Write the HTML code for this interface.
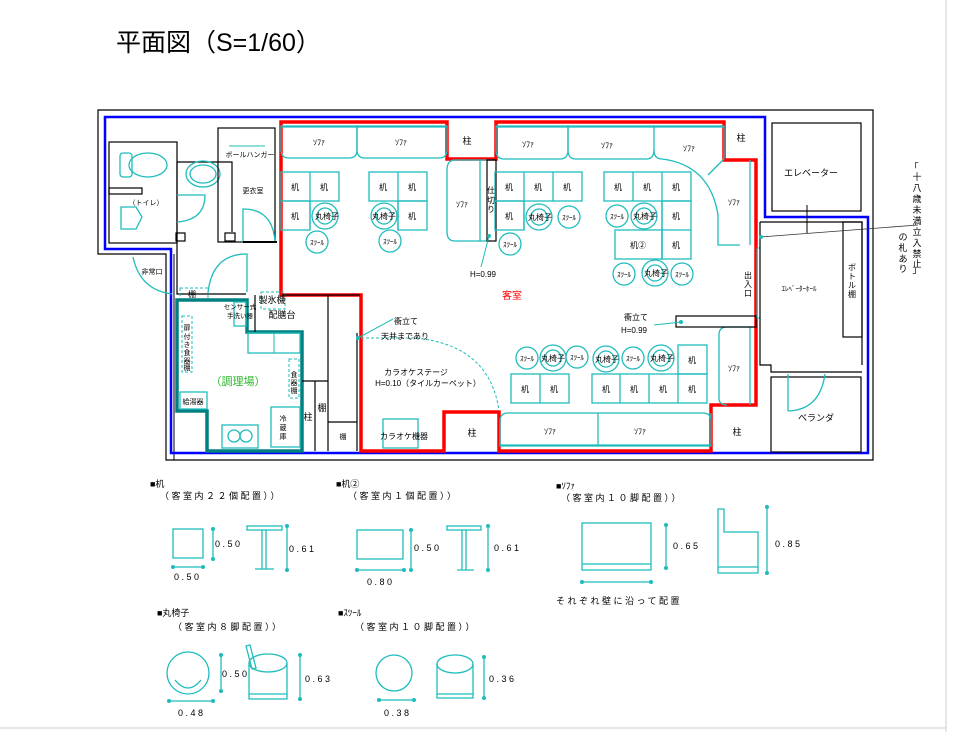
<!DOCTYPE html>
<html><head><meta charset="utf-8"><style>
html,body{margin:0;padding:0;background:#fff;}
svg{display:block;font-family:"Liberation Sans","Noto Sans CJK JP",sans-serif;}
.t{fill:none;stroke:#1fbcbc;stroke-width:1.3}
.k{fill:none;stroke:#000;stroke-width:1.2}
.l{font-size:9px;fill:#000;text-anchor:middle}
.s{font-size:8px;fill:#000;text-anchor:middle}
.d{fill:#1fbcbc}
.lg{letter-spacing:2.5px}
</style></head><body>
<svg width="959" height="732" viewBox="0 0 959 732" xmlns="http://www.w3.org/2000/svg">
<line x1="946" y1="0" x2="946" y2="732" stroke="#ccc"/>
<line x1="0" y1="728" x2="946" y2="728" stroke="#ccc"/>
<text x="116" y="51" font-size="25" fill="#000">平面図（S=1/60）</text>

<path class="k" d="M98 110 H873 V460 H166 V254 H98 Z"/>
<line x1="174" y1="254" x2="174" y2="460" stroke="#000"/>
<path d="M105 117 H765 V217 H868 V453 H171 V249 H105 Z" fill="none" stroke="#0000ff" stroke-width="2.5"/>
<path d="M281 122 H447 V159 H496 V122 H724 V160 H756 V405 H711 V451 H499 V412 H444 V451 H361 V295 H281 Z" fill="none" stroke="#f00" stroke-width="3.5"/>
<text x="467" y="144" class="l">柱</text>
<text x="741" y="141" class="l">柱</text>
<text x="472" y="436" class="l">柱</text>
<text x="737" y="435" class="l">柱</text>

<g class="t">
<path d="M281 126 H357 V150 Q357 158 349 158 H289 Q281 158 281 150 Z"/>
<path d="M357 126 H447 V150 Q447 158 439 158 H365 Q357 158 357 150 Z"/>
<path d="M496 126 H568 V150 Q568 159 560 159 H504 Q496 159 496 150 Z"/>
<path d="M568 126 H654 V150 Q654 159 646 159 H576 Q568 159 568 150 Z"/>
<path d="M654 126 H724 V159 M654 150 Q654 159 662 159 Q710 165 718 215 V245 H740"/>
<line x1="708" y1="175" x2="724" y2="159"/>
<line x1="281" y1="127" x2="447" y2="127"/><line x1="496" y1="127" x2="724" y2="127"/>
<path d="M496 160 H455 Q447 160 447 170 V232 Q447 241 455 241 H490"/>
<line x1="480" y1="160" x2="480" y2="241"/>
<line x1="750" y1="160" x2="750" y2="245"/>
<path d="M754 327 H727 Q719 327 719 335 V398 Q719 405 727 405"/>
<line x1="750" y1="327" x2="750" y2="405"/>
<path d="M711 413 V446 H500 V421 Q500 413 508 413 H703 Q711 413 711 421"/>
<line x1="500" y1="445" x2="711" y2="445"/><line x1="598" y1="413" x2="598" y2="446"/>
</g>
<text x="319" y="145" class="s">ｿﾌｧ</text><text x="401" y="145" class="s">ｿﾌｧ</text>
<text x="528" y="147" class="s">ｿﾌｧ</text><text x="607" y="148" class="s">ｿﾌｧ</text><text x="689" y="151" class="s">ｿﾌｧ</text>
<text x="462" y="207" class="s">ｿﾌｧ</text><text x="734" y="205" class="s">ｿﾌｧ</text><text x="734" y="371" class="s">ｿﾌｧ</text>
<text x="550" y="434" class="s">ｿﾌｧ</text><text x="640" y="434" class="s">ｿﾌｧ</text>
<rect x="487" y="160" width="9" height="81" class="k"/>
<text x="491" y="193" class="s">仕</text><text x="491" y="203" class="s">切</text><text x="491" y="212" class="s">り</text>
<line x1="489" y1="236" x2="481" y2="267" stroke="#1fbcbc"/><circle cx="489" cy="236" r="2" class="d"/>
<text x="483" y="277" class="s">H=0.99</text>
<text x="512" y="299" font-size="10" fill="#f00" text-anchor="middle">客室</text>

<g class="t">
<rect x="281" y="172" width="58" height="29"/><line x1="310" y1="172" x2="310" y2="230"/><rect x="281" y="201" width="29" height="29"/>
<rect x="369" y="172" width="58" height="29"/><line x1="398" y1="172" x2="398" y2="230"/><rect x="398" y="201" width="29" height="29"/>
<rect x="495" y="172" width="87" height="29"/><line x1="524" y1="172" x2="524" y2="230"/><line x1="553" y1="172" x2="553" y2="201"/><rect x="495" y="201" width="29" height="29"/>
<rect x="604" y="172" width="87" height="29"/><line x1="633" y1="172" x2="633" y2="201"/><line x1="662" y1="172" x2="662" y2="259"/><rect x="662" y="201" width="29" height="58"/><line x1="662" y1="230" x2="691" y2="230"/><rect x="615" y="230" width="47" height="29"/>
<rect x="511" y="374" width="58" height="29"/><line x1="540" y1="374" x2="540" y2="403"/>
<rect x="592" y="374" width="115" height="29"/><line x1="620" y1="374" x2="620" y2="403"/><line x1="649" y1="374" x2="649" y2="403"/><line x1="678" y1="374" x2="678" y2="403"/><rect x="678" y="345" width="29" height="29"/>
</g>
<g class="s">
<text x="295" y="190">机</text><text x="324" y="190">机</text><text x="295" y="219">机</text>
<text x="383" y="190">机</text><text x="412" y="190">机</text><text x="412" y="219">机</text>
<text x="509" y="190">机</text><text x="538" y="190">机</text><text x="567" y="190">机</text><text x="509" y="219">机</text>
<text x="618" y="190">机</text><text x="647" y="190">机</text><text x="676" y="190">机</text><text x="676" y="219">机</text><text x="638" y="248">机②</text><text x="676" y="248">机</text>
<text x="525" y="392">机</text><text x="554" y="392">机</text><text x="606" y="392">机</text><text x="634" y="392">机</text><text x="663" y="392">机</text><text x="692" y="392">机</text><text x="692" y="363">机</text>
</g>
<g class="t">
<circle cx="325" cy="216" r="13"/><circle cx="325" cy="216" r="8"/>
<circle cx="384" cy="216" r="13"/><circle cx="384" cy="216" r="8"/>
<circle cx="539" cy="217" r="13"/><circle cx="539" cy="217" r="8"/>
<circle cx="644" cy="216" r="13"/><circle cx="644" cy="216" r="8"/>
<circle cx="655" cy="273" r="13"/><circle cx="655" cy="273" r="8"/>
<circle cx="553" cy="358" r="13"/><circle cx="553" cy="358" r="8"/>
<circle cx="606" cy="359" r="13"/><circle cx="606" cy="359" r="8"/>
<circle cx="661" cy="358" r="13"/><circle cx="661" cy="358" r="8"/>
<circle cx="317" cy="242" r="11"/><circle cx="390" cy="241" r="11"/>
<circle cx="569" cy="217" r="11"/><circle cx="510" cy="244" r="11"/><circle cx="617" cy="216" r="11"/>
<circle cx="624" cy="274" r="11"/><circle cx="682" cy="274" r="11"/>
<circle cx="527" cy="358" r="11"/><circle cx="577" cy="357" r="11"/><circle cx="633" cy="358" r="11"/>
</g>
<g font-size="8" fill="#000" text-anchor="middle">
<text x="327" y="219">丸椅子</text><text x="384" y="219">丸椅子</text><text x="540" y="220">丸椅子</text><text x="645" y="219">丸椅子</text><text x="656" y="276">丸椅子</text><text x="553" y="361">丸椅子</text><text x="607" y="362">丸椅子</text><text x="662" y="361">丸椅子</text>
</g>
<g font-size="7" fill="#000" text-anchor="middle">
<text x="317" y="245">ｽﾂｰﾙ</text><text x="390" y="244">ｽﾂｰﾙ</text><text x="569" y="220">ｽﾂｰﾙ</text><text x="510" y="247">ｽﾂｰﾙ</text><text x="617" y="219">ｽﾂｰﾙ</text><text x="624" y="277">ｽﾂｰﾙ</text><text x="682" y="277">ｽﾂｰﾙ</text><text x="527" y="361">ｽﾂｰﾙ</text><text x="577" y="360">ｽﾂｰﾙ</text><text x="633" y="361">ｽﾂｰﾙ</text>
</g>
<rect x="676" y="316" width="80" height="11" class="k"/>
<circle cx="681" cy="322" r="2" class="d"/><line x1="681" y1="322" x2="654" y2="325" stroke="#1fbcbc"/>
<text x="636" y="320" class="s">衝立て</text><text x="634" y="333" class="s">H=0.99</text>
<text x="748" y="278" class="s">出</text><text x="748" y="287" class="s">入</text><text x="748" y="296" class="s">口</text>
<rect x="757" y="248" width="3" height="70" fill="none" stroke="#1fbcbc"/>

<rect x="772" y="123" width="89" height="88" class="k"/>
<text x="811" y="176" class="l">エレベーター</text>
<path class="k" d="M760 222 H862 V365 M760 222 V365 H771 V372 H862"/>
<rect x="843" y="222" width="19" height="115" class="k"/>
<g class="s"><text x="852" y="270">ボ</text><text x="852" y="279">ト</text><text x="852" y="288">ル</text><text x="852" y="297">棚</text></g>
<text x="799" y="291" font-size="7" text-anchor="middle">ｴﾚﾍﾞｰﾀｰﾎｰﾙ</text>
<rect x="771" y="377" width="90" height="75" class="k"/>
<path class="t" d="M788 411 V374 M788 411 Q820 410 825 374"/>
<text x="816" y="421" class="l">ベランダ</text>
<line x1="760" y1="237" x2="918" y2="225" stroke="#333" stroke-width="0.8"/>
<line x1="807" y1="205" x2="807" y2="233" stroke="#000"/>
<circle cx="761" cy="237" r="2" class="d"/>
<g font-size="9" fill="#000" text-anchor="middle">
<text x="914" y="170">「</text><text x="917" y="180">十</text><text x="917" y="191">八</text><text x="917" y="202">歳</text><text x="917" y="213">未</text><text x="917" y="224">満</text><text x="917" y="235">立</text><text x="917" y="246">入</text><text x="917" y="257">禁</text><text x="917" y="267">止</text><text x="917" y="273">」</text>
<text x="903" y="240">の</text><text x="903" y="251">札</text><text x="903" y="262">あ</text><text x="903" y="272">り</text>
</g>

<rect x="109" y="142" width="68" height="101" class="k"/>
<rect x="109" y="188" width="33" height="6" class="k"/>
<rect x="120" y="153" width="12" height="24" rx="3" class="t"/>
<ellipse cx="148" cy="165" rx="19" ry="12" class="t"/>
<path class="t" d="M121 207 H136 L142 217 L136 229 H121 Z"/>
<text x="146" y="205" font-size="7" text-anchor="middle">（トイレ）</text>
<path class="k" d="M177 162 H232 V232 M177 162 V242"/>
<rect x="176" y="233" width="9" height="8" class="k"/>
<ellipse cx="203" cy="174" rx="17" ry="13" class="t"/><ellipse cx="203" cy="174" rx="13" ry="9" class="t"/>
<path class="t" d="M177 195 H205 Q205 220 177 222"/>
<rect x="218" y="128" width="57" height="114" class="k"/>
<rect x="225" y="233" width="10" height="8" class="k"/>
<line x1="229" y1="146" x2="265" y2="146" stroke="#1fbcbc"/>
<text x="250" y="157" font-size="7" text-anchor="middle">ボールハンガー</text>
<text x="253" y="193" font-size="7" text-anchor="middle">更衣室</text>
<path class="t" d="M243 242 V209 Q273 209 275 242"/>
<line x1="243" y1="242" x2="277" y2="242" stroke="#000" stroke-width="2"/>
<path class="k" d="M177 242 V294 H246"/>
<path class="t" d="M247 292 V254 Q212 254 208 293"/>
<path class="t" d="M133 257 Q140 290 172 294"/>
<text x="152" y="274" font-size="7" text-anchor="middle">非常口</text>
<rect x="180" y="288" width="28" height="11" fill="none" stroke="#1fbcbc" stroke-dasharray="3,2"/>
<text x="192" y="297" font-size="8" text-anchor="middle">棚</text>
<rect x="261" y="292" width="24" height="17" fill="none" stroke="#1fbcbc" stroke-dasharray="3,2"/>
<text x="272" y="303" font-size="9" text-anchor="middle">製氷機</text>
<text x="282" y="318" class="l">配膳台</text>
<path fill="none" stroke="#008080" stroke-width="3.5" d="M177 300 H247 V332 H302 V451 H207 V411 H177 Z"/>
<rect x="234" y="302" width="12" height="24" class="t"/>
<g font-size="6.5" text-anchor="middle"><text x="240" y="309">センサー式</text><text x="240" y="318">手洗い器</text></g>
<rect x="248" y="333" width="52" height="20" class="t"/><line x1="274" y1="333" x2="274" y2="353" stroke="#1fbcbc"/>
<rect x="182" y="316" width="10" height="56" fill="none" stroke="#1fbcbc" stroke-dasharray="3,2"/>
<g font-size="7" text-anchor="middle"><text x="187" y="330">扉</text><text x="187" y="339">付</text><text x="187" y="347">き</text><text x="187" y="355">食</text><text x="187" y="363">器</text><text x="187" y="370">棚</text></g>
<rect x="289" y="359" width="10" height="39" fill="none" stroke="#1fbcbc" stroke-dasharray="3,2"/>
<g font-size="7" text-anchor="middle"><text x="294" y="377">食</text><text x="294" y="385">器</text><text x="294" y="393">棚</text></g>
<text x="238" y="385" font-size="11" fill="#2db82d" text-anchor="middle">（調理場）</text>
<rect x="180" y="392" width="27" height="17" class="t"/><text x="193" y="404" font-size="7" text-anchor="middle">給湯器</text>
<rect x="271" y="407" width="29" height="40" class="t"/>
<g font-size="7" text-anchor="middle"><text x="283" y="421">冷</text><text x="283" y="430">蔵</text><text x="283" y="439">庫</text></g>
<rect x="222" y="425" width="36" height="23" class="t"/>
<circle cx="234" cy="436" r="6" class="t"/><circle cx="246" cy="436" r="6" class="t"/>
<path class="k" d="M255 295 V332 M302 381 H328 V451 M315 381 V451 M328 295 V451 M328 422 H357 M357 333 V451 M282 295 H360"/>
<text x="308" y="420" class="l">柱</text><text x="322" y="411" class="l">棚</text><text x="343" y="439" font-size="7" text-anchor="middle">棚</text>

<path d="M361 338 H415 Q490 345 499 411" fill="none" stroke="#1fbcbc" stroke-dasharray="3,2"/>
<circle cx="358" cy="338" r="2" class="d"/><line x1="358" y1="338" x2="393" y2="319" stroke="#1fbcbc"/>
<text x="406" y="324" class="s">衝立て</text><text x="405" y="339" class="s">天井まであり</text>
<text x="416" y="375" class="s">カラオケステージ</text>
<text x="428" y="386" class="s">H=0.10（タイルカーペット）</text>
<rect x="383" y="419" width="35" height="29" class="t"/>
<text x="404" y="439" class="s">カラオケ機器</text>

<g font-size="9" fill="#000">
<text x="150" y="487">■机</text><text x="160" y="499" class="lg">（客室内２２個配置））</text>
<text x="336" y="487">■机②</text><text x="348" y="499" class="lg">（客室内１個配置））</text>
<text x="556" y="489">■ｿﾌｧ</text><text x="561" y="501" class="lg">（客室内１０脚配置））</text>
<text x="157" y="616">■丸椅子</text><text x="173" y="630" class="lg">（客室内８脚配置））</text>
<text x="338" y="616">■ｽﾂｰﾙ</text><text x="355" y="630" class="lg">（客室内１０脚配置））</text>
<text x="556" y="604" class="lg">それぞれ壁に沿って配置</text>
<g class="lg">
<text x="174" y="580">0.50</text><text x="215" y="547">0.50</text><text x="289" y="552">0.61</text>
<text x="367" y="585">0.80</text><text x="414" y="551">0.50</text><text x="494" y="551">0.61</text>
<text x="673" y="549">0.65</text><text x="775" y="547">0.85</text>
<text x="178" y="716">0.48</text><text x="222" y="677">0.50</text><text x="305" y="682">0.63</text>
<text x="384" y="716">0.38</text><text x="489" y="682">0.36</text>
</g>
</g>
<g class="t">
<rect x="173" y="529" width="30" height="29"/>
<line x1="213" y1="529" x2="213" y2="559"/><line x1="173" y1="567" x2="203" y2="567"/>
<rect x="247" y="526" width="35" height="4"/><line x1="262" y1="530" x2="262" y2="569"/><line x1="266" y1="530" x2="266" y2="569"/><line x1="255" y1="569" x2="274" y2="569"/>
<line x1="287" y1="526" x2="287" y2="570"/>
<rect x="357" y="530" width="46" height="29"/><line x1="411" y1="530" x2="411" y2="570"/><line x1="357" y1="570" x2="404" y2="570"/>
<rect x="447" y="526" width="34" height="4"/><line x1="462" y1="530" x2="462" y2="570"/><line x1="466" y1="530" x2="466" y2="570"/><line x1="457" y1="570" x2="474" y2="570"/>
<line x1="488" y1="526" x2="488" y2="570"/>
<rect x="582" y="523" width="69" height="47"/><line x1="582" y1="564" x2="651" y2="564"/><line x1="582" y1="582" x2="651" y2="582"/>
<line x1="666" y1="525" x2="666" y2="568"/>
<path d="M718 509 H724 V532 H758 V573 H718 Z"/><line x1="718" y1="567" x2="758" y2="567"/>
<line x1="767" y1="507" x2="767" y2="573"/>
<circle cx="188" cy="673" r="21"/><path d="M175 680 Q188 696 201 680"/>
<line x1="169" y1="701" x2="213" y2="701"/><line x1="221" y1="655" x2="221" y2="691"/>
<ellipse cx="268" cy="663" rx="19" ry="9"/><path d="M249 663 V699 H287 V663"/><line x1="249" y1="694" x2="287" y2="694"/>
<path d="M246 646 L250 645 L256 668 L252 669 Z"/>
<line x1="300" y1="655" x2="300" y2="699"/>
<circle cx="394" cy="673" r="18"/><line x1="379" y1="700" x2="414" y2="700"/>
<ellipse cx="455" cy="664" rx="18" ry="9"/><path d="M437 664 V698 H473 V664"/><line x1="437" y1="694" x2="473" y2="694"/>
<line x1="484" y1="657" x2="484" y2="698"/>
</g>
<g class="d">
<circle cx="213" cy="529" r="2"/><circle cx="213" cy="559" r="2"/><circle cx="173" cy="567" r="2"/><circle cx="203" cy="567" r="2"/><circle cx="287" cy="526" r="2"/><circle cx="287" cy="570" r="2"/>
<circle cx="411" cy="530" r="2"/><circle cx="411" cy="570" r="2"/><circle cx="357" cy="570" r="2"/><circle cx="404" cy="570" r="2"/><circle cx="488" cy="526" r="2"/><circle cx="488" cy="570" r="2"/>
<circle cx="666" cy="525" r="2"/><circle cx="666" cy="568" r="2"/><circle cx="582" cy="582" r="2"/><circle cx="651" cy="582" r="2"/><circle cx="767" cy="507" r="2"/><circle cx="767" cy="573" r="2"/>
<circle cx="169" cy="701" r="2"/><circle cx="213" cy="701" r="2"/><circle cx="221" cy="655" r="2"/><circle cx="221" cy="691" r="2"/><circle cx="300" cy="655" r="2"/><circle cx="300" cy="699" r="2"/>
<circle cx="379" cy="700" r="2"/><circle cx="414" cy="700" r="2"/><circle cx="484" cy="657" r="2"/><circle cx="484" cy="698" r="2"/>
</g>
</svg>
</body></html>
